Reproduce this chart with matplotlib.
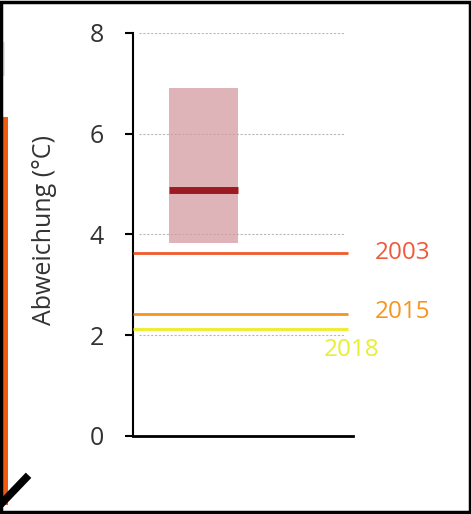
import matplotlib
matplotlib.use('Agg')
import matplotlib.pyplot as plt
from matplotlib.patches import Rectangle
from matplotlib.lines import Line2D

# projected deviation range (box) and median
box_low = 3.83
box_high = 6.9
box_median = 4.88

# observed summer deviations
years = ['2003', '2015', '2018']
year_values = [3.63, 2.42, 2.12]
year_colors = ['#f15a2b', '#f7931e', '#eeee22']
label_colors = ['#f05a3c', '#f7941d', '#e8ee30']

yticks = [0, 2, 4, 6, 8]
ylabel = 'Abweichung (°C)'

plt.rcParams['font.family'] = ['Open Sans', 'DejaVu Sans']

fig = plt.figure(figsize=(4.71, 5.14), dpi=100)
ax = fig.add_axes([0.282, 0.152, 0.467, 0.784])

ax.set_xlim(0, 1)
ax.set_ylim(0, 8)

# gridlines
for v in yticks[1:]:
    ax.plot([0.03, 0.96], [v, v], color='#b8b8b8', linestyle=(0, (2, 1.5)), linewidth=0.8, zorder=1)

# range box + median
ax.add_patch(Rectangle((0.164, box_low), 0.313, box_high - box_low,
                       facecolor='#d49ba0', alpha=0.75, edgecolor='none', zorder=2))
ax.plot([0.164, 0.477], [box_median, box_median], color='#9b1b1f', linewidth=5, solid_capstyle='butt', zorder=3)

# year lines and labels
label_x = [1.1, 1.1, 0.87]
label_y = [3.63, 2.45, 1.7]
for name, val, c, lc, lx, ly in zip(years, year_values, year_colors, label_colors, label_x, label_y):
    ax.plot([0, 0.977], [val, val], color=c, linewidth=2, solid_capstyle='butt', zorder=4)
    ax.text(lx, ly, name, color=lc, fontsize=17.5, va='center', ha='left', clip_on=False)

ax.set_yticks(yticks)
ax.set_yticklabels([str(t) for t in yticks], fontsize=18, color='#333333')
ax.set_xticks([])
ax.tick_params(axis='y', direction='out', length=6, width=1.5, pad=15)
ax.set_ylabel(ylabel, fontsize=18, color='#333333')
ax.yaxis.set_label_coords(-0.345, 0.51)

for s in ['top', 'right']:
    ax.spines[s].set_visible(False)
ax.spines['left'].set_linewidth(1.5)
ax.spines['bottom'].set_linewidth(2)

# fragments of the neighbouring panel, then the outer frame
fig.patches.append(Rectangle((0.0, 0.018), 0.017, 0.755, transform=fig.transFigure,
                             facecolor='#f25a10', edgecolor='none'))
fig.patches.append(Rectangle((0.0, 0.852), 0.011, 0.066, transform=fig.transFigure,
                             facecolor='#e4e4e4', edgecolor='none'))
fig.lines.append(Line2D([0.0, 0.055], [0.0175, 0.07], transform=fig.transFigure,
                        color='black', linewidth=5.5))
fig.patches.append(Rectangle((0.002, 0.003), 0.995, 0.994, transform=fig.transFigure,
                             fill=False, edgecolor='black', linewidth=2.5))

fig.savefig('out.png', dpi=100, facecolor='white')
